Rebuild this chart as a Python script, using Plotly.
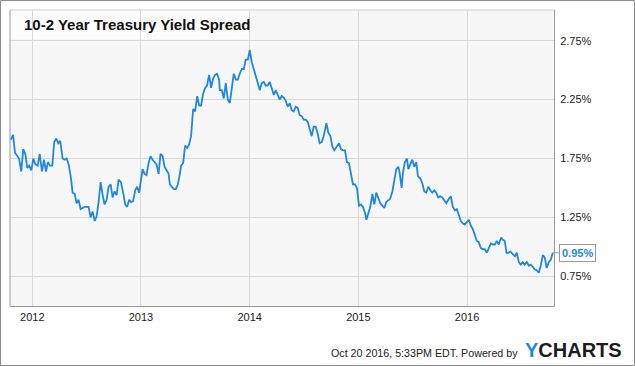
import plotly.graph_objects as go

# ---- data ----
years = [
    2011.804, 2011.823, 2011.841, 2011.862, 2011.878, 2011.899, 2011.917, 2011.936, 2011.954, 2011.972,
    2011.991, 2012.009, 2012.028, 2012.050, 2012.068, 2012.089, 2012.108, 2012.126, 2012.144, 2012.163,
    2012.184, 2012.202, 2012.221, 2012.239, 2012.257, 2012.279, 2012.298, 2012.316, 2012.335, 2012.353,
    2012.371, 2012.390, 2012.408, 2012.426, 2012.445, 2012.463, 2012.482, 2012.500, 2012.518, 2012.537,
    2012.555, 2012.574, 2012.592, 2012.610, 2012.629, 2012.647, 2012.665, 2012.684, 2012.702, 2012.721,
    2012.739, 2012.757, 2012.776, 2012.794, 2012.815, 2012.836, 2012.855, 2012.873, 2012.892, 2012.910,
    2012.928, 2012.947, 2012.965, 2012.983, 2013.015, 2013.033, 2013.051, 2013.070, 2013.088, 2013.107,
    2013.125, 2013.143, 2013.162, 2013.180, 2013.199, 2013.217, 2013.235, 2013.254, 2013.266, 2013.284,
    2013.302, 2013.321, 2013.339, 2013.358, 2013.369, 2013.388, 2013.406, 2013.425, 2013.443, 2013.461,
    2013.480, 2013.498, 2013.517, 2013.535, 2013.553, 2013.572, 2013.590, 2013.608, 2013.627, 2013.645,
    2013.664, 2013.682, 2013.700, 2013.719, 2013.725, 2013.744, 2013.762, 2013.780, 2013.799, 2013.817,
    2013.836, 2013.854, 2013.873, 2013.891, 2013.909, 2013.928, 2013.946, 2013.964, 2013.983, 2014.001,
    2014.019, 2014.038, 2014.056, 2014.075, 2014.093, 2014.111, 2014.130, 2014.148, 2014.166, 2014.185,
    2014.203, 2014.222, 2014.240, 2014.258, 2014.277, 2014.295, 2014.313, 2014.332, 2014.350, 2014.369,
    2014.387, 2014.405, 2014.424, 2014.442, 2014.460, 2014.479, 2014.497, 2014.516, 2014.534, 2014.552,
    2014.571, 2014.589, 2014.607, 2014.626, 2014.644, 2014.663, 2014.681, 2014.706, 2014.724, 2014.743,
    2014.761, 2014.779, 2014.798, 2014.822, 2014.840, 2014.858, 2014.877, 2014.895, 2014.914, 2014.932,
    2014.950, 2014.969, 2014.987, 2015.006, 2015.024, 2015.042, 2015.061, 2015.074, 2015.092, 2015.110,
    2015.129, 2015.147, 2015.165, 2015.184, 2015.202, 2015.221, 2015.239, 2015.257, 2015.276, 2015.294,
    2015.313, 2015.331, 2015.349, 2015.368, 2015.380, 2015.398, 2015.410, 2015.428, 2015.447, 2015.460,
    2015.478, 2015.496, 2015.515, 2015.533, 2015.548, 2015.570, 2015.588, 2015.607, 2015.625, 2015.643,
    2015.662, 2015.680, 2015.699, 2015.717, 2015.735, 2015.754, 2015.772, 2015.790, 2015.809, 2015.827,
    2015.851, 2015.869, 2015.888, 2015.906, 2015.925, 2015.943, 2015.961, 2015.980, 2015.998, 2016.017,
    2016.035, 2016.053, 2016.072, 2016.090, 2016.108, 2016.127, 2016.145, 2016.164, 2016.182, 2016.200,
    2016.219, 2016.237, 2016.256, 2016.274, 2016.292, 2016.314, 2016.329, 2016.347, 2016.363, 2016.381,
    2016.399, 2016.418, 2016.441, 2016.458, 2016.476, 2016.494, 2016.513, 2016.531, 2016.550, 2016.568,
    2016.586, 2016.605, 2016.623, 2016.642, 2016.660, 2016.678, 2016.697, 2016.715, 2016.733, 2016.752,
    2016.770, 2016.789,
]

spread = [
    1.91, 1.95, 1.80, 1.77, 1.75, 1.64, 1.83, 1.79, 1.67, 1.69,
    1.65, 1.75, 1.70, 1.69, 1.79, 1.64, 1.74, 1.64, 1.72, 1.69,
    1.69, 1.89, 1.92, 1.88, 1.90, 1.75, 1.74, 1.75, 1.70, 1.60,
    1.46, 1.45, 1.37, 1.40, 1.32, 1.33, 1.34, 1.34, 1.34, 1.25,
    1.30, 1.22, 1.26, 1.38, 1.55, 1.44, 1.36, 1.40, 1.51, 1.53,
    1.42, 1.47, 1.44, 1.57, 1.55, 1.46, 1.36, 1.34, 1.40, 1.38,
    1.39, 1.48, 1.51, 1.46, 1.66, 1.62, 1.61, 1.71, 1.77, 1.74,
    1.72, 1.70, 1.62, 1.79, 1.77, 1.68, 1.65, 1.62, 1.53, 1.51,
    1.49, 1.49, 1.53, 1.62, 1.69, 1.71, 1.86, 1.84, 1.87, 1.94,
    2.17, 2.15, 2.28, 2.20, 2.20, 2.30, 2.35, 2.37, 2.46, 2.35,
    2.43, 2.46, 2.47, 2.42, 2.33, 2.33, 2.26, 2.39, 2.25, 2.22,
    2.36, 2.47, 2.42, 2.42, 2.47, 2.51, 2.51, 2.59, 2.59, 2.67,
    2.57, 2.50, 2.45, 2.39, 2.33, 2.39, 2.40, 2.37, 2.37, 2.40,
    2.34, 2.29, 2.33, 2.29, 2.25, 2.28, 2.27, 2.24, 2.19, 2.22,
    2.16, 2.15, 2.19, 2.18, 2.12, 2.11, 2.08, 2.08, 2.06, 2.00,
    1.94, 2.02, 2.02, 1.96, 1.88, 1.89, 1.94, 2.05, 1.97, 1.94,
    1.85, 1.82, 1.85, 1.88, 1.83, 1.82, 1.82, 1.72, 1.71, 1.60,
    1.53, 1.53, 1.50, 1.35, 1.36, 1.34, 1.29, 1.23, 1.29, 1.34,
    1.45, 1.36, 1.46, 1.41, 1.37, 1.35, 1.33, 1.38, 1.40, 1.41,
    1.47, 1.57, 1.66, 1.68, 1.63, 1.50, 1.63, 1.72, 1.75, 1.66,
    1.70, 1.74, 1.68, 1.72, 1.60, 1.58, 1.54, 1.47, 1.46, 1.51,
    1.48, 1.46, 1.48, 1.46, 1.42, 1.43, 1.42, 1.40, 1.37, 1.40,
    1.43, 1.34, 1.31, 1.32, 1.26, 1.22, 1.20, 1.19, 1.21, 1.23,
    1.18, 1.15, 1.10, 1.05, 1.04, 0.99, 0.98, 0.98, 0.95, 0.99,
    1.03, 1.02, 1.02, 1.05, 1.02, 1.08, 1.06, 1.05, 0.95, 0.95,
    0.96, 0.94, 0.92, 0.95, 0.87, 0.85, 0.87, 0.85, 0.87, 0.84,
    0.85, 0.83, 0.81, 0.80, 0.78, 0.84, 0.93, 0.91, 0.82, 0.87,
    0.89, 0.95,
]

tick_years = [2012, 2013, 2014, 2015, 2016]
tick_labels = ["2012", "2013", "2014", "2015", "2016"]
y_ticks = [0.75, 1.25, 1.75, 2.25, 2.75]
y_labels = ["0.75%", "1.25%", "1.75%", "2.25%", "2.75%"]
title_text = "10-2 Year Treasury Yield Spread"
last_label = "0.95%"
footer_text = "Oct 20 2016, 5:33PM EDT. Powered by"

# ---- styling ----
FONT = "Liberation Sans, Arial, sans-serif"
BLUE = "#1e88e5"
W, H = 635, 366
ML, MR, MT, MB = 10, 81, 10, 60
PW, PH = W - ML - MR, H - MT - MB


def px_x(p):
    return (p - ML) / PW


def px_y(p):
    return (H - MB - p) / PH


fig = go.Figure(
    go.Scatter(
        x=years, y=spread, mode="lines",
        line=dict(color=BLUE, width=1.8),
        hoverinfo="skip",
    )
)

fig.update_layout(
    width=W, height=H,
    margin=dict(l=ML, r=MR, t=MT, b=MB, pad=0),
    paper_bgcolor="white",
    plot_bgcolor="#f7f7f7",
    showlegend=False,
    font=dict(family=FONT, size=11, color="#222"),
)

fig.update_xaxes(
    range=[2011.795, 2016.800],
    tickmode="array", tickvals=tick_years, ticktext=tick_labels,
    showgrid=True, gridcolor="#d9d9d9", gridwidth=1,
    zeroline=False, showline=True, linecolor="#999", linewidth=1,
    ticks="outside", ticklen=1, tickcolor="rgba(0,0,0,0)",
    tickfont=dict(family=FONT, size=11, color="#222"),
    fixedrange=True,
)
fig.update_yaxes(
    side="right",
    range=[0.498, 3.011],
    tickmode="array", tickvals=y_ticks, ticktext=y_labels,
    showgrid=True, gridcolor="#d9d9d9", gridwidth=1,
    zeroline=False, showline=True, linecolor="#999", linewidth=1,
    ticks="outside", ticklen=3, tickcolor="rgba(0,0,0,0)",
    tickfont=dict(family=FONT, size=11, color="#222"),
    fixedrange=True,
)

shapes = [
    # outer frame
    dict(type="rect", xref="paper", yref="paper",
         x0=px_x(0.5), x1=px_x(W - 0.5), y0=px_y(H - 0.5), y1=px_y(0.5),
         line=dict(color="#8c8c8c", width=1), fillcolor="rgba(0,0,0,0)", layer="above"),
    # left plot border
    dict(type="line", xref="paper", yref="paper", x0=0, x1=0, y0=0, y1=1,
         line=dict(color="#999", width=1), layer="above"),
    # top plot border
    dict(type="line", xref="paper", yref="paper", x0=0, x1=1, y0=1, y1=1,
         line=dict(color="#d0d0d0", width=1), layer="above"),
    # title backdrop
    dict(type="rect", xref="paper", yref="paper",
         x0=0, x1=px_x(250), y0=px_y(39), y1=1,
         line=dict(width=0), fillcolor="rgba(255,255,255,0.6)", layer="below"),
]
fig.update_layout(shapes=shapes)

annotations = [
    dict(text="<b>" + title_text + "</b>", xref="paper", yref="paper",
         x=px_x(21.5), y=px_y(24.5), xanchor="left", yanchor="middle",
         showarrow=False, font=dict(family=FONT, size=15, color="#111")),
    dict(text="<b>" + last_label + "</b>", xref="x", yref="y",
         x=years[-1], y=spread[-1], xanchor="left", yanchor="middle",
         showarrow=True, arrowhead=0, arrowwidth=1, arrowcolor="#999",
         ax=6, ay=0, standoff=0,
         bgcolor="white", bordercolor="#999", borderwidth=1, borderpad=2,
         font=dict(family=FONT, size=11, color=BLUE)),
    dict(text=footer_text, xref="paper", yref="paper",
         x=px_x(520), y=px_y(352.7), xanchor="right", yanchor="middle",
         showarrow=False, font=dict(family=FONT, size=10.7, color="#222")),
    dict(text="<b><span style='color:" + BLUE + "'>Y</span>CHARTS</b>",
         xref="paper", yref="paper",
         x=px_x(523), y=px_y(349.7), xanchor="left", yanchor="middle",
         showarrow=False, font=dict(family=FONT, size=20, color="#1c1c1c")),
]
fig.update_layout(annotations=annotations)

fig.write_html(
    "out.html",
    config={"displayModeBar": False, "responsive": False},
    post_script="document.body.style.margin='0';document.body.style.padding='0';",
)
